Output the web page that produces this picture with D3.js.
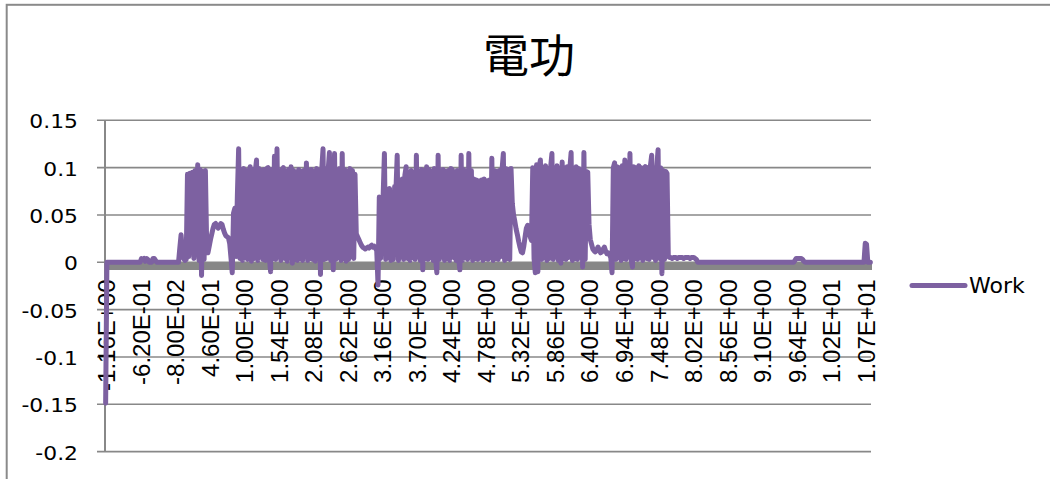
<!DOCTYPE html>
<html>
<head>
<meta charset="utf-8">
<script src="https://cdn.jsdelivr.net/npm/d3@7"></script>
<style>
  html, body { margin: 0; padding: 0; background: #ffffff; }
  svg { display: block; }
</style>
</head>
<body>
<div id="chart"></div>
<script>
// Chart title and series name
const titleText = "電功";
const seriesName = "Work";

// Value axis ticks
const yTicks = [-0.2, -0.15, -0.1, -0.05, 0, 0.05, 0.1, 0.15];
const yTickLabels = ["-0.2", "-0.15", "-0.1", "-0.05", "0", "0.05", "0.1", "0.15"];

// Time axis: one sample every 0.02 starting at -1.16, a label every 27 samples
const timeStart = -1.16;
const timeStep = 0.02;
const labelEvery = 27;
const timeLabels = [
  "-1.16E+00", "-6.20E-01", "-8.00E-02", "4.60E-01", "1.00E+00", "1.54E+00",
  "2.08E+00", "2.62E+00", "3.16E+00", "3.70E+00", "4.24E+00", "4.78E+00",
  "5.32E+00", "5.86E+00", "6.40E+00", "6.94E+00", "7.48E+00", "8.02E+00",
  "8.56E+00", "9.10E+00", "9.64E+00", "1.02E+01", "1.07E+01"
];

// Work samples
const work = [
  -0.149,
  0, 0, 0, 0, 0, 0, 0, 0, 0, 0, 0, 0, 0, 0, 0, 0, 0, 0, 0, 0, 0, 0, 0, 0, 0, 0, 0,
  0.004, 0.003, 0.004, 0.001, 0.004, 0.003, 0, 0, 0, 0.004, 0.004, 0.002, 0, 0,
  0, 0, 0, 0, 0, 0, 0, 0, 0, 0, 0, 0, 0, 0, 0, 0,
  0.015, 0.029, 0.012, 0.004, 0.002, 0.003,
  0.093, 0.006, 0.094, 0.01, 0.095, 0.004, 0.097, 0.008, 0.103, 0.002, 0.098, -0.014, 0.096, 0.003, 0.097, 0.02,
  0.01, 0.017, 0.024, 0.03, 0.036, 0.04, 0.041, 0.038, 0.036, 0.038, 0.041, 0.04, 0.035, 0.031, 0.028, 0.027, 0.026, 0.02, 0.005, -0.011,
  0.052, 0.057, 0.006, 0.07, 0.12, 0.004, 0.098, 0.002, 0.099, 0.005,
  0.097, 0.003, 0.095, 0.101, 0.001, 0.098, 0.004, 0.096, 0.108, 0.002,
  0.099, 0.006, 0.097, 0.003, 0.098, 0.002, 0.099, 0.1, 0.005, -0.01,
  0.098, 0.004, 0.112, 0.003, 0.12, 0.006, 0.097, 0.002, 0.098, 0.1,
  0.004, 0.096, 0.001, 0.098, 0.005, 0.101, -0.001, 0.097, 0.003, 0.095,
  0.002, 0.098, 0.004, 0.096, 0.002, 0.097, 0.006, 0.105, 0.002, 0.097,
  0.004, 0.098, 0.003, 0.096, 0.001, 0.099, 0.005, 0.097, -0.013, 0.098,
  0.12, 0.003, 0.099, 0.004, 0.097, 0.116, 0.002, 0.098, -0.008, 0.115,
  0.003, 0.097, 0.005, 0.099, 0.002, 0.115, 0.004, 0.098, 0.001, 0.096,
  0.003, 0.099, 0.006, 0.097, 0.004, 0.093, 0.03,
  0.027, 0.024, 0.021, 0.018, 0.016, 0.015, 0.014, 0.015, 0.016, 0.015, 0.017, 0.018, 0.016, 0.017, 0.015, 0.012,
  -0.024,
  0.069, 0.004, 0.068, 0.07, 0.115, 0.003, 0.072, 0.005, 0.078, 0.002,
  0.071, 0.003, 0.08, 0.076, 0.113, 0.002, 0.085, 0.006, 0.088, 0.003,
  0.092, 0.101, 0.004, 0.095, 0.002, 0.097, 0.005, 0.094, 0.003, 0.113,
  0.006, 0.096, 0.002, 0.098, -0.008, 0.097, 0.004, 0.101, 0.003, 0.098,
  0.005, 0.096, 0.002, 0.099, 0.004, -0.011, 0.113, 0.003, 0.097, 0.006,
  0.098, 0.002, 0.096, 0.004, 0.097, 0.002, 0.099, 0.098, 0.005, 0.095,
  0.002, 0.097, 0.004, -0.008, 0.113, 0.002, 0.098, 0.005, 0.096, 0.003,
  0.115, 0.006, 0.097, 0.002, 0.088, 0.004, 0.087, 0.003, 0.086, 0.005,
  0.087, 0.002, 0.088, 0.004, 0.086, 0.003, 0.087, 0.005, 0.11, 0.002,
  0.097, 0.004, 0.096, 0.003, 0.097, 0.006, 0.098, 0.115, 0.002, 0.099,
  0.004, 0.098, 0.003, 0.099, 0.062,
  0.05, 0.043, 0.035, 0.029, 0.022, 0.016, 0.011, 0.01, 0.017, 0.027, 0.036, 0.039, 0.033, 0.027, 0.023,
  0.1, 0.004, -0.011, 0.103, -0.01, 0.101, 0.108, 0.003, 0.1, 0.005,
  0.102, 0.002, 0.099, 0.004, 0.101, 0.115, 0.003, 0.1, 0.006, 0.102,
  0.002, 0.099, -0.001, 0.106, 0.004, 0.1, 0.003, 0.101, 0.005, 0.099,
  0.116, 0.002, 0.1, 0.004, 0.101, 0.003, 0.099, 0.006, 0.097, -0.005,
  0.116, 0.003, 0.096, 0.095, 0.04,
  0.024, 0.019, 0.014, 0.012, 0.011, 0.013, 0.016, 0.013, 0.01, 0.011, 0.014, 0.016, 0.012, 0.009, 0.01, 0.008, 0.005,
  -0.011, 0.1, 0.105, 0.003, 0.101, 0.005, 0.1, 0.002, 0.102, 0.004,
  0.108, 0.003, 0.1, 0.006, 0.115, 0.002, -0.005, 0.101, 0.004, 0.1,
  0.003, 0.102, 0.005, 0.1, 0.002, 0.099, 0.101, 0.004, 0.1, 0.003,
  0.102, 0.113, 0.005, 0.1, 0.002, 0.101, 0.119, 0.004, 0.1, -0.012,
  0.097, 0.003, 0.096, 0.094,
  0.006, 0.005, 0.005, 0.004, 0.005, 0.005, 0.005, 0.004, 0.005, 0.005, 0.005, 0.005,
  0.004, 0.005, 0.005, 0.005, 0.005, 0.004, 0.005, 0.005, 0.005, 0.004, 0.003,
  0, 0, 0, 0, 0, 0, 0, 0, 0, 0, 0, 0, 0, 0, 0, 0, 0, 0, 0, 0,
  0, 0, 0, 0, 0, 0, 0, 0, 0, 0, 0, 0, 0, 0, 0, 0, 0, 0, 0, 0,
  0, 0, 0, 0, 0, 0, 0, 0, 0, 0, 0, 0, 0, 0, 0, 0, 0, 0, 0, 0,
  0, 0, 0, 0, 0, 0, 0, 0, 0, 0, 0, 0, 0, 0, 0, 0,
  0.002, 0.004, 0.004, 0.004, 0.004, 0.004, 0.003, 0.001,
  0, 0, 0, 0, 0, 0, 0, 0, 0, 0, 0, 0, 0, 0, 0, 0, 0, 0, 0, 0,
  0, 0, 0, 0, 0, 0, 0, 0, 0, 0, 0, 0, 0, 0, 0, 0, 0, 0, 0, 0,
  0, 0, 0, 0, 0, 0, 0,
  0.02, 0.019, 0, 0, 0
];

// Sample times (x values of the category axis)
const times = work.map((_, i) => +(timeStart + i * timeStep).toFixed(2));

const W = 1050, H = 479;
const plot = { left: 105, right: 871, top: 120.3, bottom: 451.6 };
const purple = "#7d61a1";
const axisGrey = "#888888";

const svg = d3.select("#chart").append("svg")
  .attr("width", W).attr("height", H);

svg.append("rect").attr("width", W).attr("height", H).attr("fill", "#ffffff");

// Chart area frame
svg.append("rect")
  .attr("x", 6.7).attr("y", 4.8)
  .attr("width", W + 40).attr("height", H + 40)
  .attr("fill", "none").attr("stroke", "#8a8a8a").attr("stroke-width", 2);

// Title
svg.append("text")
  .attr("x", 529).attr("y", 72)
  .attr("text-anchor", "middle")
  .style("font-family", "'Noto Sans CJK TC', 'Noto Sans CJK SC', sans-serif")
  .style("font-size", "46px")
  .attr("fill", "#000")
  .text(titleText);

const x = d3.scalePoint()
  .domain(d3.range(times.length))
  .range([plot.left, plot.right])
  .padding(0.5);

const y = d3.scaleLinear()
  .domain([yTicks[0], yTicks[yTicks.length - 1]])
  .range([plot.bottom, plot.top]);

// Gridlines with their short tick marks left of the value axis
svg.append("g").selectAll("line")
  .data(yTicks)
  .join("line")
  .attr("x1", plot.left - 8).attr("x2", plot.right)
  .attr("y1", d => y(d)).attr("y2", d => y(d))
  .attr("stroke", axisGrey).attr("stroke-width", 1.6);

// Category axis band along zero
svg.append("line")
  .attr("x1", plot.left).attr("x2", plot.right + 1)
  .attr("y1", y(0) + 4).attr("y2", y(0) + 4)
  .attr("stroke", "#878787").attr("stroke-width", 7.5);

// Value axis line
svg.append("line")
  .attr("x1", plot.left).attr("x2", plot.left)
  .attr("y1", plot.top).attr("y2", plot.bottom)
  .attr("stroke", axisGrey).attr("stroke-width", 2);

// Value axis labels
svg.append("g").selectAll("text")
  .data(yTicks)
  .join("text")
  .attr("transform", d => `translate(78,${y(d)}) scale(1.15,1)`)
  .attr("dy", "0.42em")
  .attr("text-anchor", "end")
  .style("font-family", "'DejaVu Sans', sans-serif")
  .style("font-size", "19px")
  .attr("fill", "#000")
  .text((d, i) => yTickLabels[i]);

// Category axis labels, rotated
svg.append("g").selectAll("text")
  .data(timeLabels)
  .join("text")
  .attr("transform", (d, k) => `translate(${x(k * labelEvery) + 0.8},279.5) rotate(-90)`)
  .attr("dy", "0.36em")
  .attr("text-anchor", "end")
  .style("font-family", "'Liberation Sans', Arial, sans-serif")
  .style("font-size", "24px")
  .attr("fill", "#000")
  .text(d => d);

// Work series
const line = d3.line()
  .x((d, i) => x(i))
  .y(d => y(d));

svg.append("path")
  .datum(work)
  .attr("d", line)
  .attr("fill", "none")
  .attr("stroke", purple)
  .attr("stroke-width", 5)
  .attr("stroke-linejoin", "round")
  .attr("stroke-linecap", "round");

// Legend
const legend = svg.append("g");
legend.append("line")
  .attr("x1", 912).attr("x2", 965)
  .attr("y1", 285.5).attr("y2", 285.5)
  .attr("stroke", purple).attr("stroke-width", 5)
  .attr("stroke-linecap", "round");
legend.append("text")
  .attr("x", 969).attr("y", 293)
  .style("font-family", "'DejaVu Sans', sans-serif")
  .style("font-size", "22px")
  .attr("fill", "#000")
  .text(seriesName);
</script>
</body>
</html>
